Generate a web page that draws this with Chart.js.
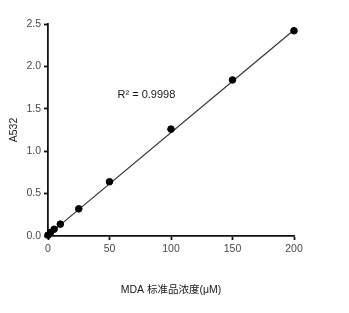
<!DOCTYPE html>
<html>
<head>
<meta charset="utf-8">
<script src="https://cdn.jsdelivr.net/npm/chart.js@4"></script>
<style>
  html, body { margin: 0; padding: 0; background: #fff; }
  #wrap { width: 349px; height: 313px; }
</style>
</head>
<body>
<div id="wrap"><canvas id="chart" width="349" height="313"></canvas></div>
<script>
// standard concentrations (µM) and absorbance at 532 nm
const concentrations = [0, 2, 5, 10, 25, 50, 100, 150, 200];
const absorbance = [0.01, 0.04, 0.08, 0.14, 0.32, 0.64, 1.26, 1.84, 2.42];

// fitted line endpoints
const fitX = [0, 200];
const fitY = [0.01, 2.43];

const xTicks = [0, 50, 100, 150, 200];
const yTicks = [0, 0.5, 1.0, 1.5, 2.0, 2.5];

const r2Label = 'R² = 0.9998';
const xTitle = 'MDA 标准品浓度(μM)';
const yTitle = 'A532';

const fontFamily = '"Liberation Sans", Arial, "Noto Sans CJK SC", sans-serif';

const r2Plugin = {
    id: 'r2Label',
    afterDatasetsDraw(chart) {
        const ctx = chart.ctx;
        const x = chart.scales.x.getPixelForValue(80);
        const y = chart.scales.y.getPixelForValue(1.66);
        ctx.save();
        ctx.font = '11px ' + fontFamily;
        ctx.fillStyle = '#1a1a1a';
        ctx.textAlign = 'center';
        ctx.textBaseline = 'middle';
        ctx.fillText(r2Label, x, y);
        ctx.restore();
    }
};

const ctx = document.getElementById('chart').getContext('2d');

new Chart(ctx, {
    type: 'scatter',
    data: {
        datasets: [{
            label: 'fit',
            data: fitX.map((x, i) => ({ x: x, y: fitY[i] })),
            showLine: true,
            borderColor: '#333',
            borderWidth: 1.2,
            pointRadius: 0,
            clip: false,
            order: 2
        }, {
            label: 'standards',
            data: concentrations.map((c, i) => ({ x: c, y: absorbance[i] })),
            backgroundColor: '#000',
            borderColor: '#000',
            pointRadius: 3.3,
            clip: false,
            order: 1
        }]
    },
    options: {
        responsive: false,
        animation: false,
        layout: { padding: { top: 24, right: 55, bottom: 0, left: 0 } },
        plugins: {
            legend: { display: false },
            tooltip: { enabled: false }
        },
        scales: {
            x: {
                type: 'linear',
                min: 0,
                max: 200,
                afterBuildTicks: scale => { scale.ticks = xTicks.map(v => ({ value: v })); },
                afterFit: scale => { scale.height = 77; },
                grid: { drawOnChartArea: false, tickLength: 4, tickColor: '#111', tickWidth: 1.8 },
                border: { color: '#111', width: 1.8 },
                ticks: { color: '#4a4a4a', padding: 3, font: { family: fontFamily, size: 10.5 } },
                title: {
                    display: true,
                    text: xTitle,
                    color: '#1a1a1a',
                    padding: { top: 0, bottom: 17 },
                    font: { family: fontFamily, size: 10.5 }
                }
            },
            y: {
                type: 'linear',
                min: 0,
                max: 2.5,
                afterBuildTicks: scale => { scale.ticks = yTicks.map(v => ({ value: v })); },
                afterFit: scale => { scale.width = 48; },
                grid: { drawOnChartArea: false, tickLength: 4, tickColor: '#111', tickWidth: 1.8 },
                border: { color: '#111', width: 1.8 },
                ticks: {
                    color: '#4a4a4a',
                    padding: 3,
                    font: { family: fontFamily, size: 10.5 },
                    callback: v => v.toFixed(1)
                },
                title: {
                    display: true,
                    text: yTitle,
                    color: '#1a1a1a',
                    padding: { top: 8, bottom: 0 },
                    font: { family: fontFamily, size: 10.5 }
                }
            }
        }
    },
    plugins: [r2Plugin]
});
</script>
</body>
</html>
